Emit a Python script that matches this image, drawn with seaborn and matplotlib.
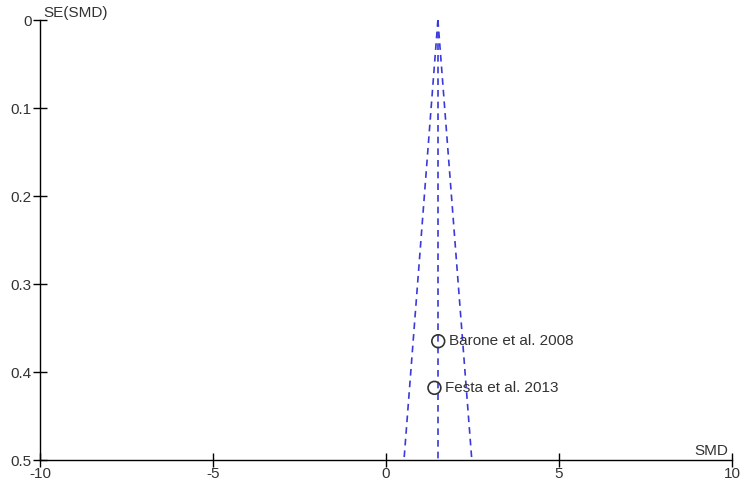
import matplotlib
matplotlib.use("Agg")
import matplotlib.pyplot as plt
import seaborn as sns
import pandas as pd
import numpy as np

sns.set_theme(style="white")
plt.rcParams["font.family"] = ["Liberation Sans", "DejaVu Sans"]
plt.rcParams["axes.unicode_minus"] = False

# Studien
studies = ["Barone et al. 2008", "Festa et al. 2013"]
smd = [1.51, 1.40]
se_smd = [0.365, 0.418]

pooled = 1.50          # gepoolter Effekt
se_max = 0.5
x_ticks = [-10, -5, 0, 5, 10]
y_ticks = [0, 0.1, 0.2, 0.3, 0.4, 0.5]

df = pd.DataFrame({"study": studies, "smd": smd, "se": se_smd})

fig = plt.figure(figsize=(7.5, 5), dpi=100)
ax = fig.add_axes([40 / 750, 40 / 500, 692 / 750, 440 / 500])

blue = "#3a3adb"
dash = (0, (4, 3))
se_line = np.array([0, se_max])
ax.plot(pooled - 1.96 * se_line, se_line, color=blue, linestyle=dash, linewidth=1.2)
ax.plot(pooled + 1.96 * se_line, se_line, color=blue, linestyle=dash, linewidth=1.2)
ax.plot([pooled, pooled], [0, se_max], color=blue, linestyle=dash, linewidth=1.2)

sns.scatterplot(data=df, x="smd", y="se", ax=ax, marker="o", s=85,
                facecolor="none", edgecolor="#333333", linewidth=1.2, zorder=3)
for _, r in df.iterrows():
    ax.text(r["smd"] + 0.3, r["se"], r["study"], fontsize=11, color="#333333",
            va="center", ha="left")

ax.set_xlim(-10, 10)
ax.set_ylim(0.5, 0)
ax.set_xticks(x_ticks)
ax.set_yticks(y_ticks)
ax.set_yticklabels(["0", "0.1", "0.2", "0.3", "0.4", "0.5"])
ax.tick_params(bottom=True, left=True, direction="inout", length=10, width=1,
               colors="black", labelsize=11, labelcolor="#333333", pad=1)
ax.tick_params(axis="x", pad=0)
for side in ["top", "right"]:
    ax.spines[side].set_visible(False)
for side in ["left", "bottom"]:
    ax.spines[side].set_color("black")
    ax.spines[side].set_linewidth(1.0)
ax.set_xlabel("")
ax.set_ylabel("")

ax.text(0.005, 1.0, "SE(SMD)", transform=ax.transAxes, fontsize=11,
        color="#333333", ha="left", va="bottom")
ax.text(0.995, 0.005, "SMD", transform=ax.transAxes, fontsize=11,
        color="#333333", ha="right", va="bottom")

fig.savefig("out.png", dpi=100)
